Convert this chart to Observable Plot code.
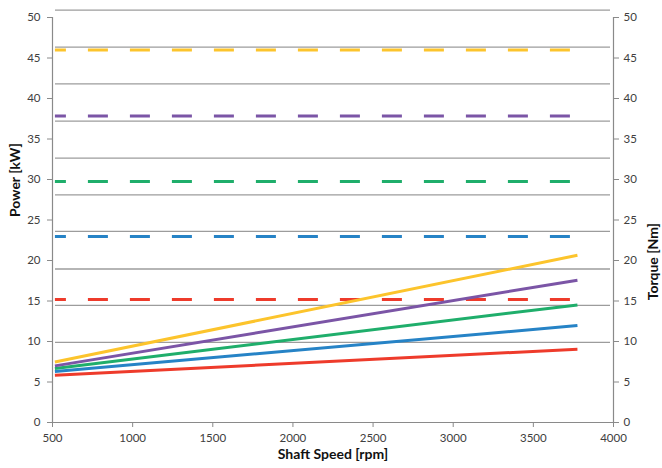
<!DOCTYPE html>
<html>
<head>
<meta charset="utf-8">
<script src="https://cdn.jsdelivr.net/npm/d3@7"></script>
<script src="https://cdn.jsdelivr.net/npm/@observablehq/plot@0.6"></script>
<style>
  html, body { margin: 0; padding: 0; background: #fff; }
  #chart { width: 662px; height: 468px; overflow: hidden; }
</style>
</head>
<body>
<div id="chart"></div>
<script>
// ---- data ----
const seriesNames = ["Series 1", "Series 2", "Series 3", "Series 4", "Series 5"];
const seriesColors = ["#EE3B2B", "#2683C6", "#1FAE6B", "#7B55A6", "#FCC42C"];
const speedRange = [515, 3775];                       // rpm, start / end of every curve
const powerStart = [5.84, 6.30, 6.66, 6.99, 7.48];     // kW at start speed
const powerEnd = [9.05, 11.97, 14.52, 17.57, 20.65];   // kW at end speed
const torqueValues = [15.2, 22.95, 29.75, 37.85, 46.0]; // Nm (constant, dashed)
const gridValues = [50.9, 46.35, 41.8, 37.2, 32.65, 28.1, 23.6, 18.95, 14.45, 9.9];
const yTicks = [0, 5, 10, 15, 20, 25, 30, 35, 40, 45, 50];
const xTicks = [500, 1000, 1500, 2000, 2500, 3000, 3500, 4000];

// ---- tables built from the arrays ----
const powerRows = seriesNames.flatMap((s, i) => [
  {series: s, rpm: speedRange[0], value: powerStart[i]},
  {series: s, rpm: speedRange[1], value: powerEnd[i]}
]);
const torqueRows = seriesNames.flatMap((s, i) => [
  {series: s, rpm: speedRange[0], value: torqueValues[i]},
  {series: s, rpm: speedRange[1], value: torqueValues[i]}
]);

const axisGray = "#8a8a8a";
const labelGray = "#404040";

const chart = Plot.plot({
  width: 662,
  height: 468,
  marginLeft: 52,
  marginRight: 49,
  marginTop: 17,
  marginBottom: 46,
  style: {fontFamily: "Lato, 'Open Sans', sans-serif", fontSize: "11.5px", background: "#fff"},
  x: {domain: [xTicks[0], xTicks[xTicks.length - 1]]},
  y: {domain: [yTicks[0], yTicks[yTicks.length - 1]]},
  color: {type: "ordinal", domain: seriesNames, range: seriesColors},
  marks: [
    Plot.ruleY(gridValues, {stroke: "#9c9c9c", strokeWidth: 1.3, insetLeft: 3, insetRight: 3}),
    Plot.ruleX([xTicks[0], xTicks[xTicks.length - 1]], {y1: yTicks[0], y2: yTicks[yTicks.length - 1], stroke: axisGray, strokeWidth: 1.2}),
    Plot.ruleY([yTicks[0]], {stroke: axisGray, strokeWidth: 1.2}),
    Plot.line(torqueRows, {x: "rpm", y: "value", z: "series", stroke: "series", strokeWidth: 3,
      strokeDasharray: "20,22", strokeDashoffset: 9, strokeLinecap: "butt"}),
    Plot.line(powerRows, {x: "rpm", y: "value", z: "series", stroke: "series", strokeWidth: 3, strokeLinecap: "butt"}),
    Plot.axisY(yTicks, {anchor: "left", tickSize: 5, tickPadding: 7, label: null, stroke: axisGray, fill: labelGray}),
    Plot.axisY(yTicks, {anchor: "right", tickSize: 5, tickPadding: 5, label: null, stroke: axisGray, fill: labelGray}),
    Plot.axisX(xTicks, {anchor: "bottom", tickSize: 5, tickPadding: 6, label: null, stroke: axisGray, fill: labelGray, tickFormat: d => String(d)}),
    Plot.text(["Power [kW]"], {frameAnchor: "left", rotate: -90, dx: -37, dy: -3, fontWeight: "bold", fontSize: 14, fill: "#111"}),
    Plot.text(["Torque [Nm]"], {frameAnchor: "right", rotate: -90, dx: 40, dy: 3, fontWeight: "bold", fontSize: 14, fill: "#111"}),
    Plot.text(["Shaft Speed [rpm]"], {frameAnchor: "bottom", dy: 36, fontWeight: "bold", fontSize: 14, fill: "#111"})
  ]
});
document.getElementById("chart").appendChild(chart);
</script>
</body>
</html>
